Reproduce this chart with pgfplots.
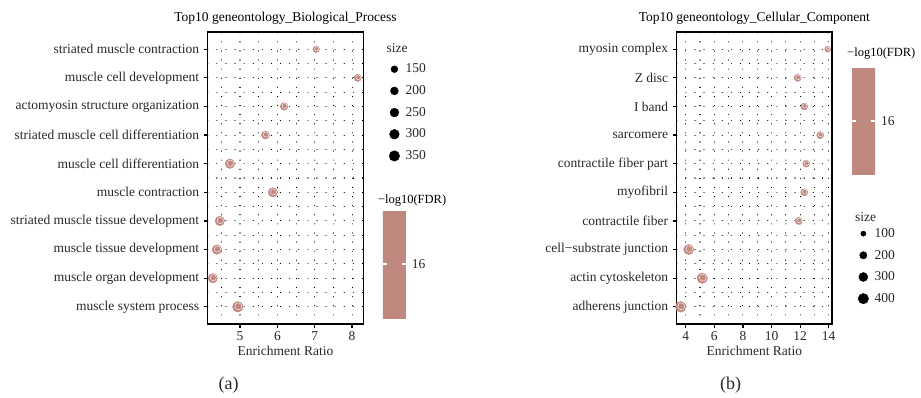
\documentclass[border=0pt]{standalone}
\usepackage{fontspec}
\setmainfont{Liberation Serif}
\usepackage{pgfplots}
\usepackage{pgfplotstable}
\pgfplotsset{compat=1.18}
\definecolor{dotc}{RGB}{191,137,128}
\definecolor{txt}{RGB}{40,40,40}

% Biological process: x = enrichment ratio, y = row (10 = top), s = size
\pgfplotstableread{
x y s
7.04 10 140
8.15 9 170
6.18 8 185
5.68 7 205
4.73 6 290
5.88 5 280
4.46 4 290
4.38 3 290
4.27 2 280
4.94 1 358
}\bpdata

% Cellular component
\pgfplotstableread{
x y s
13.93 10 130
11.83 9 190
12.29 8 180
13.41 7 190
12.43 6 185
12.29 5 185
11.90 4 190
4.21 3 380
5.16 2 400
3.65 1 420
}\ccdata

\newcommand{\fs}{\fontsize{13.5}{15}\selectfont}

\pgfplotsset{
 dotgrid/.style={black, line width=1.1pt, line cap=round, dash pattern=on 0.1pt off 9pt},
 sizeleg/.style={only marks, mark=*, black, mark size=#1,
   legend image code/.code={\draw[only marks, mark=*, black, mark size=#1] plot coordinates {(0pt,0pt)};}},
 common/.style={
   scale only axis, anchor=south west,
   ymin=0.4, ymax=10.6, ytick={1,...,10}, minor ytick={1.5,2.5,...,9.5},
   grid=both, major grid style={dotgrid}, minor grid style={dotgrid},
   tick align=outside, tick pos=left, major tick length=4pt, minor tick length=0pt,
   axis line style={line width=1.1pt, black},
   major tick style={black, line width=1.2pt},
   tick label style={font=\fs, text=txt},
   yticklabel style={xshift=-1pt},
   /pgf/number format/assume math mode=true,
   xlabel={Enrichment Ratio},
   every axis x label/.style={at={(0.5,0)}, anchor=base, yshift=-31pt, font=\fs, text=txt},
   every axis title/.style={at={(0.5,1)}, anchor=base, yshift=10pt, font=\fs, text=black},
   clip=false,
   colormap={pinkmap}{color=(dotc) color=(dotc)},
   point meta min=15, point meta max=17,
   colorbar, colorbar/width=23pt,
   legend style={draw=none, fill=none, font=\fs, text=txt, row sep=7.2pt, inner sep=0pt,
     /tikz/every odd column/.append style={column sep=4pt}},
   legend cell align=left,
 },
 cbar/.style={scale only axis, height=108pt, grid=none,
   ytick={16}, tick pos=both, yticklabel pos=right, tick align=inside,
   major tick length=4pt, major tick style={white, line width=1.3pt},
   axis line style={draw=none},
   yticklabel style={font=\fs, text=txt, xshift=2.5pt},
   /pgf/number format/assume math mode=true,
   every axis title/.style={at={(0,1)}, anchor=base west, inner sep=0pt, xshift=-5pt, yshift=#1, font=\fontsize{12.5}{14}\selectfont, text=black},
   title={−log10(FDR)}},
 bubble/.style={scatter, only marks, mark=*, forget plot,
   scatter/use mapped color={draw=dotc, fill=dotc},
   visualization depends on={#1*sqrt(\thisrow{s}) \as \rad},
   scatter/@pre marker code/.append style={/tikz/mark size=\rad pt}},
 ring/.style={scatter, only marks, mark=o, forget plot,
   scatter/use mapped color={draw=white},
   visualization depends on={#1*0.66*sqrt(\thisrow{s}) \as \rad},
   visualization depends on={(\thisrow{s}>250) \as \op},
   scatter/@pre marker code/.append style={/tikz/mark size=\rad pt, /tikz/draw opacity=\op, /tikz/line width=0.6pt, /tikz/xshift=0.5pt, /tikz/yshift=0.5pt}},
}

\begin{document}
\begin{tikzpicture}
\path[use as bounding box] (0pt,0pt) rectangle (921pt,-398pt);

% ---------- (a) ----------
\begin{axis}[common,
  at={(207.7pt,-324pt)}, width=155.6pt, height=292pt,
  xmin=4.134, xmax=8.30,
  xtick={5,6,7,8}, minor xtick={4.5,5.5,6.5,7.5},
  yticklabels={muscle system process, muscle organ development, muscle tissue development, striated muscle tissue development, muscle contraction, muscle cell differentiation, striated muscle cell differentiation, actomyosin structure organization, muscle cell development, striated muscle contraction},
  title={Top10 geneontology\_Biological\_Process},
  colorbar style={cbar=6.5pt, at={(parent axis.south east)}, anchor=south west, xshift=11pt, yshift=6pt},
  legend style={at={(1.165,0.898)}, anchor=north west},
]
\addplot[bubble=0.28] table[x=x, y=y] {\bpdata};
\addplot[ring=0.28] table[x=x, y=y] {\bpdata};
\addlegendimage{sizeleg=3.43pt}
\addlegendentry{150}
\addlegendimage{sizeleg=3.96pt}
\addlegendentry{200}
\addlegendimage{sizeleg=4.43pt}
\addlegendentry{250}
\addlegendimage{sizeleg=4.85pt}
\addlegendentry{300}
\addlegendimage{sizeleg=5.24pt}
\addlegendentry{350}
\end{axis}

% ---------- (b) ----------
\begin{axis}[common,
  at={(676.7pt,-324pt)}, width=155.3pt, height=292pt,
  xmin=3.37, xmax=14.23,
  xtick={4,6,8,10,12,14}, minor xtick={5,7,9,11,13},
  yticklabels={adherens junction, actin cytoskeleton, cell−substrate junction, contractile fiber, myofibril, contractile fiber part, sarcomere, I band, Z disc, myosin complex},
  title={Top10 geneontology\_Cellular\_Component},
  colorbar style={cbar=10.5pt, at={(parent axis.north east)}, anchor=north west, xshift=11.5pt, yshift=-35pt},
  legend style={at={(1.167,0.335)}, anchor=north west},
]
\addplot[bubble=0.26] table[x=x, y=y] {\ccdata};
\addplot[ring=0.26] table[x=x, y=y] {\ccdata};
\addlegendimage{sizeleg=2.6pt}
\addlegendentry{100}
\addlegendimage{sizeleg=3.68pt}
\addlegendentry{200}
\addlegendimage{sizeleg=4.5pt}
\addlegendentry{300}
\addlegendimage{sizeleg=5.2pt}
\addlegendentry{400}
\end{axis}

% size legend titles
\node[font=\fs, text=txt, anchor=base west, inner sep=0pt] at (386.5pt,-52.5pt) {size};
\node[font=\fs, text=txt, anchor=base west, inner sep=0pt] at (855pt,-221.5pt) {size};

\node[font=\fontsize{18}{20}\selectfont, text=txt, anchor=base] at (228.5pt,-389pt) {(a)};
\node[font=\fontsize{18}{20}\selectfont, text=txt, anchor=base] at (730.5pt,-389pt) {(b)};
\end{tikzpicture}
\end{document}
